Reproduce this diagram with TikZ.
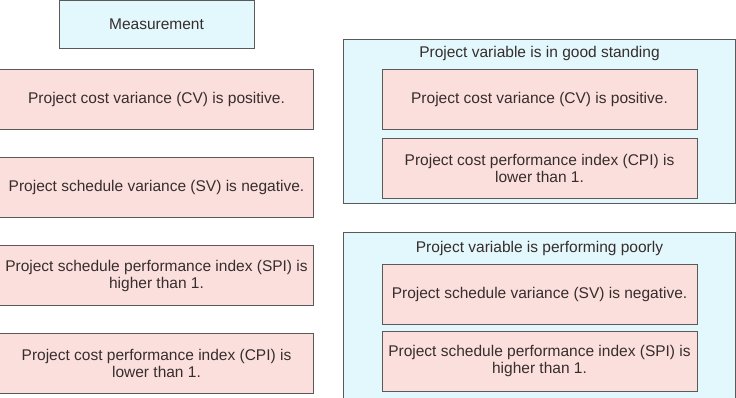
\documentclass[tikz,border=0pt]{standalone}
\usepackage{fontspec}
\setmainfont{Liberation Sans}
\usetikzlibrary{positioning}
\definecolor{cellpink}{RGB}{251,223,221}
\definecolor{cellcyan}{RGB}{226,248,252}
\definecolor{edge}{RGB}{90,90,90}
\definecolor{ink}{RGB}{55,45,45}

\begin{document}
\begin{tikzpicture}[
    x=1pt, y=1pt,
    node distance=27pt,
    box/.style={rectangle, draw=edge, line width=1pt, fill=cellpink, minimum width=314pt, minimum height=60pt, align=center, inner sep=0pt, font=\fontsize{15.5}{17}\selectfont, text=ink},
    head/.style={rectangle, draw=edge, line width=1pt, fill=cellcyan, minimum width=195pt, minimum height=48pt, font=\fontsize{15.5}{17}\selectfont, text=ink},
    group/.style={rectangle, draw=edge, line width=1pt, fill=cellcyan, minimum width=392pt, anchor=north west},
    title/.style={font=\fontsize{15.5}{17}\selectfont, text=ink, inner sep=0pt},
]
\useasboundingbox (0,0) rectangle (736,-398);

% Measurement column
\node[head] (measure) at (156.5,-24.5) {Measurement};
\node[box, below=20pt of measure] (cvpos) {Project cost variance (CV) is positive.};
\node[box, below=of cvpos] (svneg) {Project schedule variance (SV) is negative.};
\node[box, below=of svneg] (spihigh) {Project schedule performance index (SPI) is\\higher than 1.};
\node[box, below=of spihigh] (cpilow) {Project cost performance index (CPI) is\\lower than 1.};

% Good standing
\node[group, minimum height=164pt] (good) at (343,-39) {};
\node[title, below=7pt of good.north] (goodtitle) {Project variable is in good standing};
\node[box, minimum width=315pt, below=8pt of goodtitle] (goodcv) {Project cost variance (CV) is positive.};
\node[box, minimum width=315pt, below=8pt of goodcv] (goodcpi) {Project cost performance index (CPI) is\\lower than 1.};

% Performing poorly
\node[group, minimum height=165.5pt] (poor) at (343,-232) {};
\node[title, below=9pt of poor.north] (poortitle) {Project variable is performing poorly};
\node[box, minimum width=315pt, below=8pt of poortitle] (poorsv) {Project schedule variance (SV) is negative.};
\node[box, minimum width=315pt, below=6pt of poorsv] (poorspi) {Project schedule performance index (SPI) is\\higher than 1.};

\end{tikzpicture}
\end{document}
